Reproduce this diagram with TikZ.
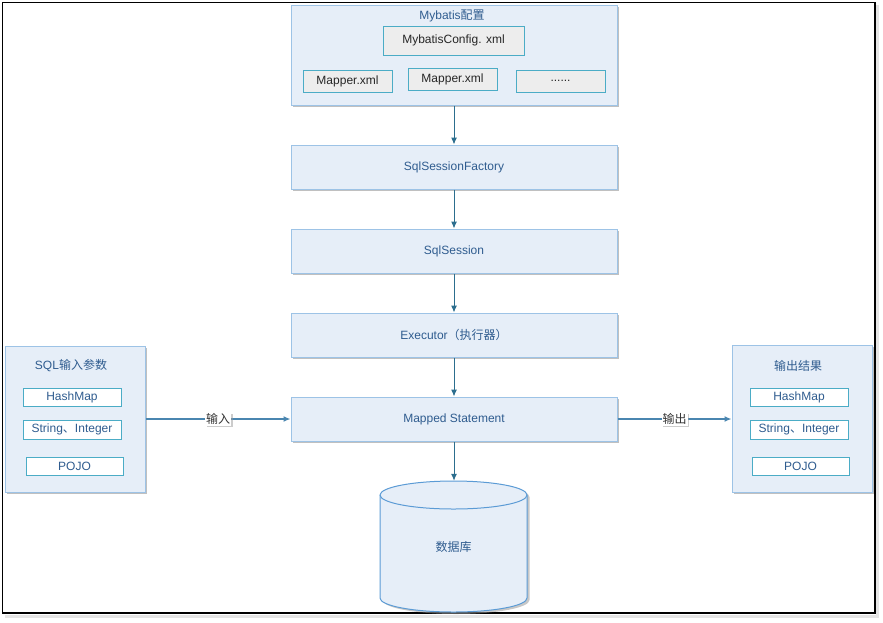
\documentclass[tikz,border=0pt]{standalone}
\usepackage{fontspec}
\setmainfont{Liberation Sans}
\newfontfamily\cjk{Noto Sans CJK SC}
\usetikzlibrary{shadows,arrows.meta}
\definecolor{boxfill}{HTML}{E6EEF8}
\definecolor{boxline}{HTML}{9DC3E6}
\definecolor{cylline}{HTML}{5B9BD5}
\definecolor{txt}{HTML}{2F5C8F}
\definecolor{inline}{HTML}{4BACC6}
\definecolor{arr}{HTML}{2C6E8E}
\definecolor{harr}{HTML}{4A86B0}
\tikzset{
  bigbox/.style={draw=boxline, fill=boxfill, line width=1pt, drop shadow={shadow xshift=2pt, shadow yshift=-2pt, fill=black!45, opacity=0.55}, text=txt, inner sep=0pt},
  graybox/.style={draw=inline, fill=black!7, line width=1pt, text=black!85, inner sep=0pt},
  whitebox/.style={draw=inline, fill=white, line width=1pt, text=txt, inner sep=0pt},
  lbl/.style={text=txt, inner sep=0pt},
  flow/.style={draw=arr, line width=1pt, -{Latex[length=7pt,width=6pt]}},
  hflow/.style={draw=harr, line width=1.3pt, -{Latex[length=7pt,width=6pt]}},
  tag/.style={fill=white, inner sep=1pt, text=black!80, drop shadow={shadow xshift=1.5pt, shadow yshift=-1.5pt, fill=black!40, opacity=0.5}},
}
\begin{document}
\begin{tikzpicture}[x=1pt,y=-1pt, font=\fontsize{12}{14}\selectfont]
\useasboundingbox (0,0) rectangle (883,622);
% frame
\fill[black!10] (5,615) rectangle (878,618);
\fill[black!10] (876,5) rectangle (879,618);
\draw[black, line width=1.3pt] (2.5,2.5) rectangle (875,613);
% config group
\node[bigbox, minimum width=326, minimum height=100] (cfg) at (454,55) {};
\node[lbl] (cfgt) at (452,16) {Mybatis{\cjk 配置}};
\node[graybox, minimum width=141, minimum height=29] (mc) at (453.5,40.5) {MybatisConfig. xml};
\node[graybox, minimum width=89, minimum height=22] (m1) at (347.5,81) {Mapper.xml};
\node[graybox, minimum width=89, minimum height=22] (m2) at (452.5,79) {Mapper.xml};
\node[graybox, minimum width=89, minimum height=22] (m3) at (560.5,81) {......};
% chain
\node[bigbox, minimum width=326, minimum height=44] (ssf) at (454,167) {SqlSessionFactory};
\node[bigbox, minimum width=326, minimum height=44] (ss) at (454,251) {SqlSession};
\node[bigbox, minimum width=326, minimum height=44] (ex) at (454,335) {Executor{\cjk （执行器）}};
\node[bigbox, minimum width=326, minimum height=44] (ms) at (454,419) {Mapped Statement};
% database
\fill[black!40, opacity=0.55] (382.5,497) -- (382.5,600) arc[start angle=180, end angle=0, x radius=73.5, y radius=14] -- (529.5,497) arc[start angle=0, end angle=-180, x radius=73.5, y radius=14] -- cycle;
\filldraw[draw=cylline, fill=boxfill, line width=1pt] (380,495) -- (380,598) arc[start angle=180, end angle=0, x radius=73.5, y radius=14] -- (527,495) arc[start angle=0, end angle=-180, x radius=73.5, y radius=14] -- cycle;
\draw[draw=cylline, line width=1pt] (380,495) arc[start angle=180, end angle=0, x radius=73.5, y radius=14];
\node[minimum width=147, minimum height=131, inner sep=0pt, text=txt] (db) at (453.5,546.5) {{\cjk 数据库}};
% left group
\node[bigbox, minimum width=140, minimum height=146] (in) at (75,419) {};
\node[lbl] (int) at (71,366) {SQL{\cjk 输入参数}};
\node[whitebox, minimum width=98, minimum height=18] (i1) at (72,397) {HashMap};
\node[whitebox, minimum width=98, minimum height=19] (i2) at (72,429.5) {String{\cjk 、}Integer};
\node[whitebox, minimum width=97, minimum height=18] (i3) at (74.5,466) {POJO};
% right group
\node[bigbox, minimum width=140, minimum height=147] (out) at (802,418.5) {};
\node[lbl] (outt) at (798,366) {{\cjk 输出结果}};
\node[whitebox, minimum width=98, minimum height=18] (o1) at (799,397) {HashMap};
\node[whitebox, minimum width=98, minimum height=19] (o2) at (799,429.5) {String{\cjk 、}Integer};
\node[whitebox, minimum width=97, minimum height=18] (o3) at (800.5,466.5) {POJO};
% arrows
\draw[flow] (cfg.south) -- (ssf.north);
\draw[flow] (ssf.south) -- (ss.north);
\draw[flow] (ss.south) -- (ex.north);
\draw[flow] (ex.south) -- (ms.north);
\draw[flow] (ms.south) -- (ms.south |- db.north);
\draw[hflow] (in.east |- ms.west) -- node[tag] {\cjk 输入} (ms.west);
\draw[hflow] (ms.east) -- node[tag] {\cjk 输出} (out.west |- ms.east);
\end{tikzpicture}
\end{document}
